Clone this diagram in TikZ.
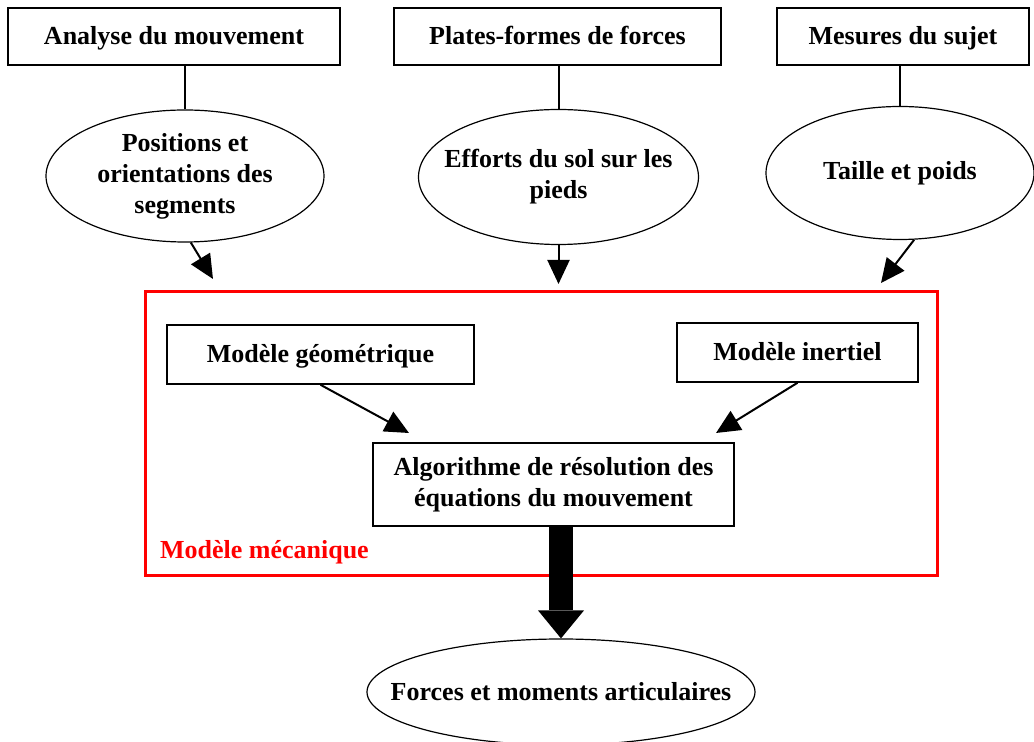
\documentclass[tikz,border=0pt]{standalone}
\usepackage{fontspec}
\setmainfont{Liberation Serif}
\usetikzlibrary{positioning,arrows.meta,shapes.geometric}

\begin{document}
\begin{tikzpicture}[
  x=0.5pt, y=-0.5pt,
  every node/.style={font=\fontsize{13}{15.5}\selectfont\bfseries, align=center},
  source/.style={draw, line width=0.8pt, minimum height=28.5pt, inner sep=0pt, text height=10pt, text depth=2pt},
  data/.style={draw, ellipse, line width=0.6pt, inner sep=0pt},
  model/.style={draw, line width=0.8pt, minimum height=29.5pt, inner sep=0pt},
  frame/.style={draw=red, line width=1.5pt, inner sep=0pt},
  link/.style={line width=1pt},
  edge/.style={-{Triangle[length=12pt,width=11pt]}, line width=1pt},
  bigedge/.style={-{Triangle[length=14pt,width=23pt,line width=0pt]}, line width=12pt}
]
  \useasboundingbox (0,0) rectangle (1034,742);

  % sources
  \node[source, minimum width=166pt] (analyse) at (174,36.5) {Analyse du mouvement};
  \node[source, minimum width=163.5pt] (plates) at (557.5,36.5) {Plates-formes de forces};
  \node[source, minimum width=126pt] (mesures) at (903,36.5) {Mesures du sujet};

  % data
  \node[data, minimum width=139pt, minimum height=66pt] (posit) at (185,176) {Positions et\\orientations des\\segments};
  \node[data, minimum width=140pt, minimum height=67.5pt, inner xsep=-10pt] (efforts) at (558.5,177) {Efforts du sol sur les\\pieds};
  \node[data, minimum width=134pt, minimum height=66.5pt] (taille) at (900,173) {Taille et poids};

  \draw[link] (posit.north) -- (posit.north |- analyse.south);
  \draw[link] (efforts.north) -- (efforts.north |- plates.south);
  \draw[link] (taille.north) -- (taille.north |- mesures.south);

  % mechanical model
  \node[frame, minimum width=396pt, minimum height=142pt] (meca) at (541,434) {};
  \node[text=red, anchor=west] (mecalabel) at (153,552) {Modèle mécanique};
  \node[model, minimum width=153.5pt, text height=10pt, text depth=2pt] (geom) at (320.5,354.5) {Modèle géométrique};
  \node[model, minimum width=120.5pt, text height=10pt, text depth=2pt] (inert) at (797.5,352.5) {Modèle inertiel};
  \node[model, minimum width=180.5pt, minimum height=41.5pt] (algo) at (553.5,484.5) {Algorithme de résolution des\\équations du mouvement};

  \node[data, minimum width=194pt, minimum height=53pt, inner xsep=-20pt] (forces) at (561,692) {Forces et moments articulaires};

  \coordinate (tipA) at (213,279);
  \coordinate (tipB) at (558.5,284);
  \coordinate (tipC) at (881,283);
  \coordinate (tipD) at (409,433);
  \coordinate (tipE) at (716,433);

  \draw[edge] (posit.-85) -- (tipA);
  \draw[edge] (efforts) -- (tipB);
  \draw[edge] (taille.-78) -- (tipC);
  \draw[edge] (geom.south) -- (tipD);
  \draw[edge] (inert.south) -- (tipE);
  \draw[bigedge] (algo.south -| forces.north) -- (forces.north);
\end{tikzpicture}
\end{document}
